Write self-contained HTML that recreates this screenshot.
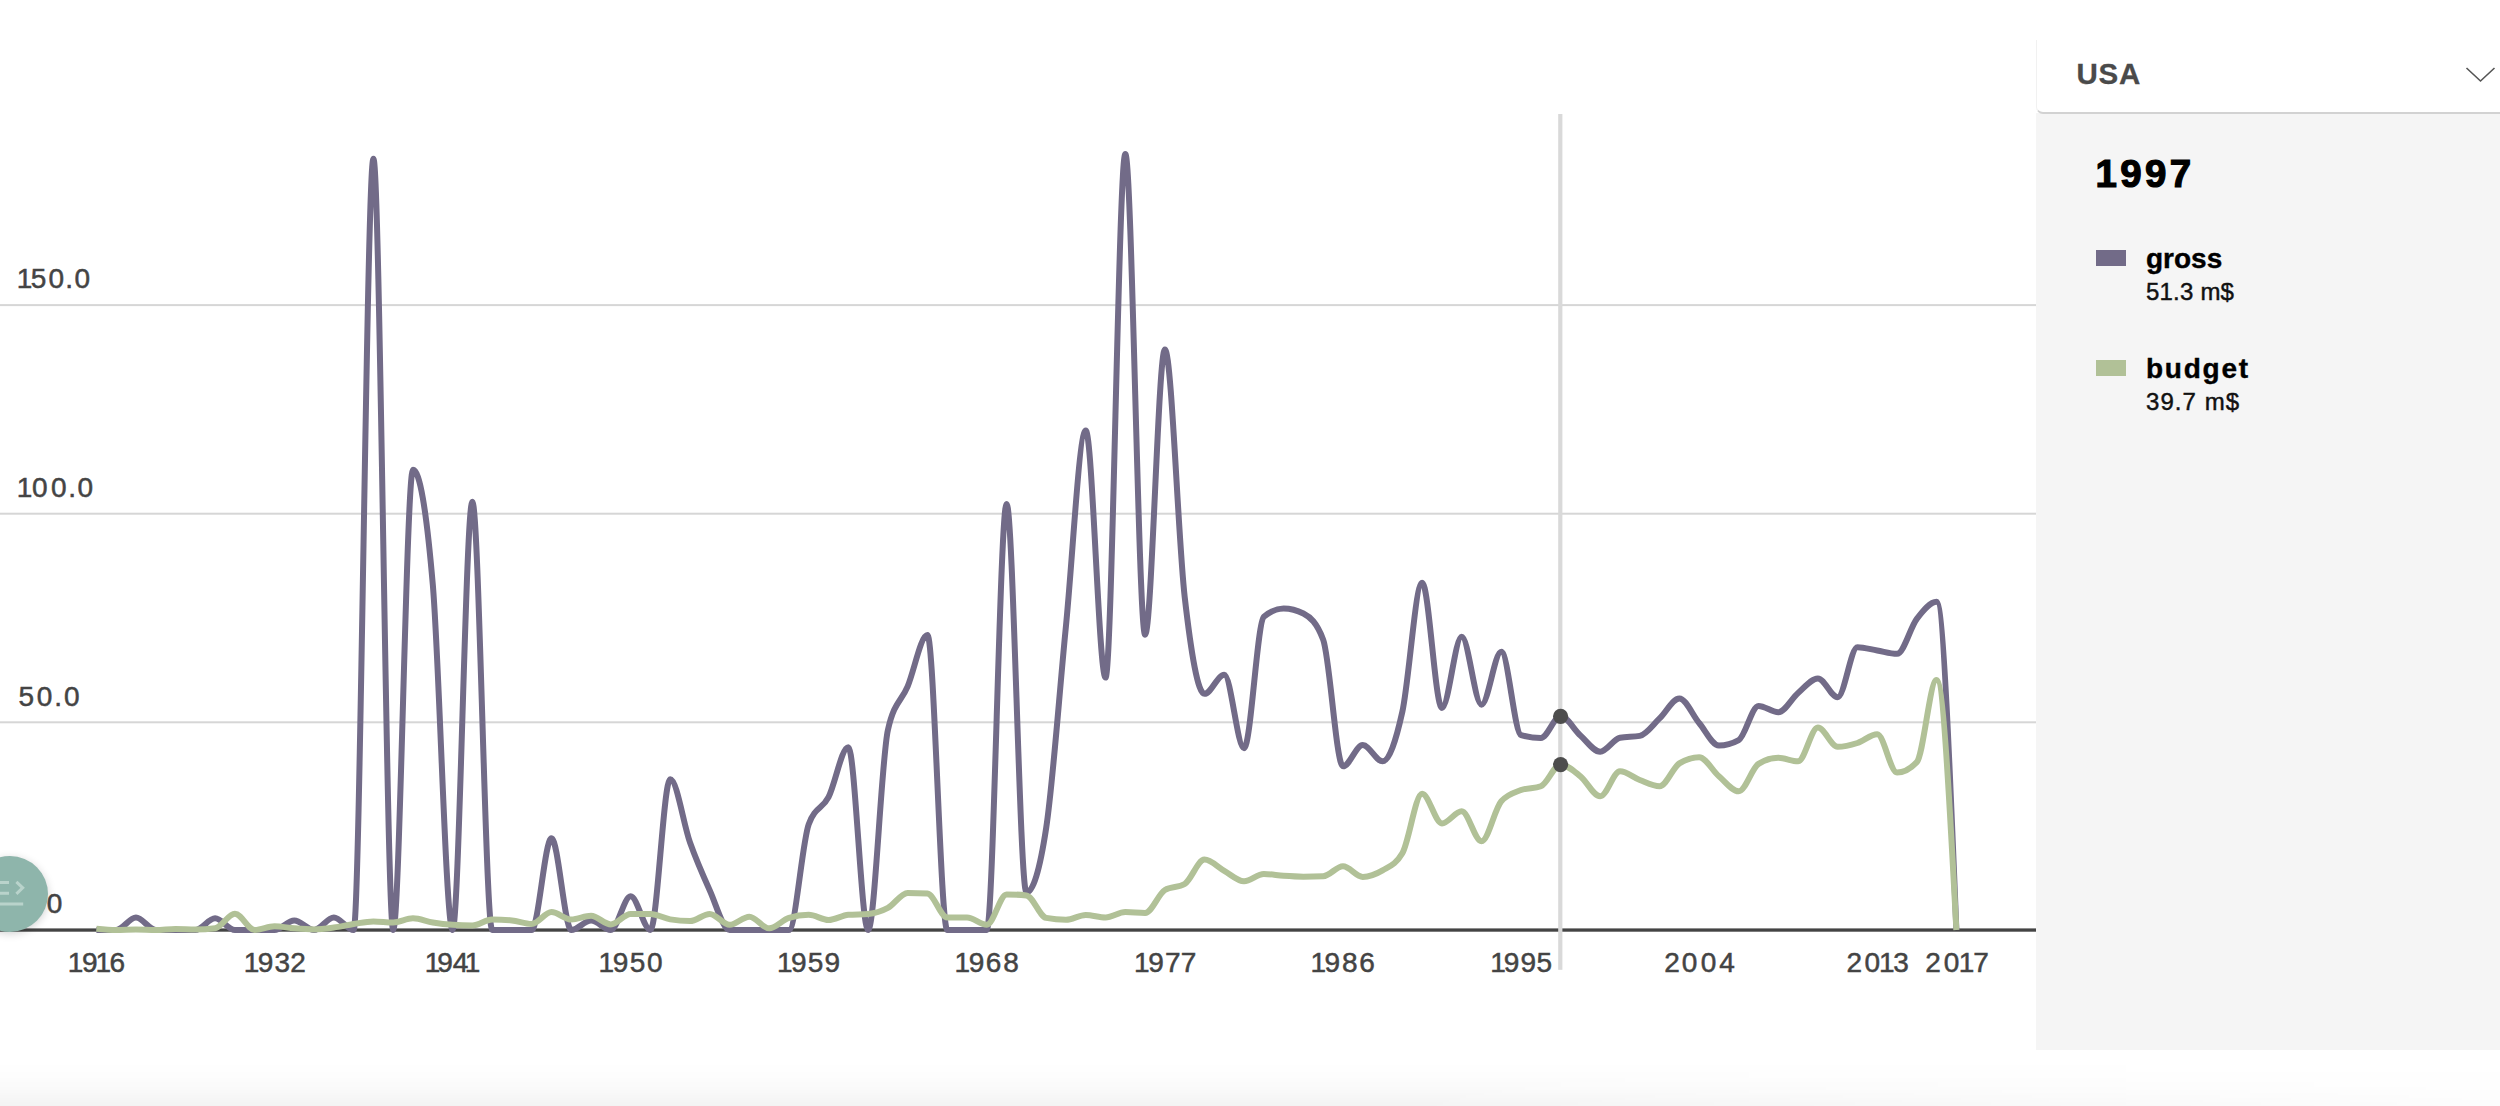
<!DOCTYPE html>
<html><head><meta charset="utf-8"><title>Gross and budget</title>
<style>
html,body{margin:0;padding:0;background:#fff;}
body{width:2500px;height:1106px;position:relative;overflow:hidden;font-family:"Liberation Sans",sans-serif;}
#chart{position:absolute;left:0;top:0;}
#chart text{font-family:"Liberation Sans",sans-serif;font-size:28px;fill:#444;stroke:#444;stroke-width:.5px}
#panel{position:absolute;left:2036px;top:113px;width:464px;height:937px;background:#f5f5f5;}
#select{position:absolute;left:2036px;top:40px;width:464px;height:72px;background:#fff;border-bottom:2px solid #d2d2d2;border-left:1px solid #f1f1f1;border-bottom-left-radius:7px;box-sizing:content-box}
#select span{position:absolute;left:39.5px;top:17.3px;font-weight:bold;font-size:29.5px;color:#4a4a4a;line-height:34px;letter-spacing:.7px;-webkit-text-stroke:.3px #4a4a4a}
#year{position:absolute;left:2095.5px;top:152.3px;font-weight:bold;font-size:38.5px;line-height:44px;color:#000;letter-spacing:3.3px;-webkit-text-stroke:1.2px #000}
.sw{position:absolute;left:2096px;width:30px;height:16px}
.nm{position:absolute;left:2146px;font-weight:bold;font-size:28px;line-height:32px;color:#000;-webkit-text-stroke:.4px #000}
.vl{position:absolute;left:2146px;font-size:24px;line-height:28px;color:#111;-webkit-text-stroke:.45px #111}
#fab{position:absolute;left:-28px;top:856px;width:76px;height:76px;border-radius:50%;background:#8eb5ab;box-shadow:0 2px 8px rgba(0,0,0,.18)}
#bottom{position:absolute;left:0;top:1062px;width:2500px;height:44px;background:linear-gradient(to bottom,rgba(0,0,0,0) 0%,rgba(0,0,0,.006) 30%,rgba(0,0,0,.02) 62%,rgba(0,0,0,.048) 100%);-webkit-mask-image:linear-gradient(to right,#000 0%,#000 55%,rgba(0,0,0,.25) 100%)}
</style></head><body>
<svg id="chart" width="2500" height="1106" viewBox="0 0 2500 1106">
<rect x="0" y="304.1" width="2036" height="2" fill="#d6d6d6"/><rect x="0" y="512.7" width="2036" height="2" fill="#d6d6d6"/><rect x="0" y="721.3" width="2036" height="2" fill="#d6d6d6"/>
<g><text x="16.77 30.76 48.42 65.31 74.42" y="288.0">150.0</text><text x="16.77 32.05 51.11 68.21 77.52" y="496.9">100.0</text><text x="18.38 36.84 54.33 64.02" y="706.0">50.0</text><text x="18.71 36.61 46.72" y="913.2">0.0</text></g>
<rect x="0" y="928.4" width="2036" height="3.3" fill="#444"/>
<rect x="1558.2" y="114" width="4.2" height="855.8" fill="#d9d9d9"/>
<path d="M96.40,930.00C103.00,930.00,109.59,930.00,116.19,930.00C122.78,930.00,129.38,917.50,135.97,917.50C142.57,917.50,149.17,930.00,155.76,930.00C162.36,930.00,168.95,930.00,175.55,930.00C182.14,930.00,188.74,930.00,195.34,930.00C201.93,930.00,208.53,918.34,215.12,918.34C221.72,918.34,228.31,930.00,234.91,930.00C241.50,930.00,248.10,930.00,254.70,930.00C261.29,930.00,267.89,930.00,274.48,930.00C281.08,930.00,287.67,920.42,294.27,920.42C300.87,920.42,307.46,930.00,314.06,930.00C320.65,930.00,327.25,917.50,333.84,917.50C340.44,917.50,347.04,930.00,353.63,930.00C360.23,930.00,366.82,158.64,373.42,158.64C380.01,158.64,386.61,930.00,393.21,930.00C399.80,930.00,406.40,469.77,412.99,469.77C419.59,469.77,426.18,507.95,432.78,584.31C439.37,660.66,445.97,930.00,452.57,930.00C459.16,930.00,465.76,501.84,472.35,501.84C478.95,501.84,485.54,930.00,492.14,930.00C498.74,930.00,505.33,930.00,511.93,930.00C518.52,930.00,525.12,930.00,531.71,930.00C538.31,930.00,544.91,838.37,551.50,838.37C558.10,838.37,564.69,930.00,571.29,930.00C577.88,930.00,584.48,920.42,591.07,920.42C597.67,920.42,604.27,930.00,610.86,930.00C617.46,930.00,624.05,896.26,630.65,896.26C637.24,896.26,643.84,930.00,650.44,930.00C657.03,930.00,663.63,779.23,670.22,779.23C676.82,779.23,683.41,824.00,690.01,842.53C696.61,861.07,703.20,875.86,709.80,890.43C716.39,905.01,722.99,930.00,729.58,930.00C736.18,930.00,742.78,930.00,749.37,930.00C755.97,930.00,762.56,930.00,769.16,930.00C775.75,930.00,782.35,930.00,788.94,930.00C795.54,930.00,802.14,842.26,808.73,824.21C815.33,806.16,821.92,809.98,828.52,797.14C835.11,784.29,841.71,747.16,848.31,747.16C854.90,747.16,861.50,930.00,868.09,930.00C874.69,930.00,881.28,759.24,887.88,730.08C894.48,700.92,901.07,702.17,907.67,686.35C914.26,670.52,920.86,635.12,927.45,635.12C934.05,635.12,940.65,930.00,947.24,930.00C953.84,930.00,960.43,930.00,967.03,930.00C973.62,930.00,980.22,930.00,986.81,930.00C993.41,930.00,1000.01,503.92,1006.60,503.92C1013.20,503.92,1019.79,892.51,1026.39,892.51C1032.98,892.51,1039.58,871.00,1046.18,827.96C1052.77,784.92,1059.37,692.18,1065.96,625.95C1072.56,559.73,1079.15,430.62,1085.75,430.62C1092.35,430.62,1098.94,677.60,1105.54,677.60C1112.13,677.60,1118.73,154.06,1125.32,154.06C1131.92,154.06,1138.52,634.70,1145.11,634.70C1151.71,634.70,1158.30,349.40,1164.90,349.40C1171.49,349.40,1178.09,539.39,1184.68,596.80C1191.28,654.21,1197.88,693.84,1204.47,693.84C1211.07,693.84,1217.66,674.69,1224.26,674.69C1230.85,674.69,1237.45,748.20,1244.05,748.20C1250.64,748.20,1257.24,622.35,1263.83,616.79C1270.43,611.24,1277.02,608.46,1283.62,608.46C1290.22,608.46,1296.81,610.13,1303.41,613.46C1310.00,616.79,1316.60,622.21,1323.19,639.70C1329.79,657.19,1336.39,766.32,1342.98,766.32C1349.58,766.32,1356.17,745.07,1362.77,745.07C1369.36,745.07,1375.96,761.32,1382.56,761.32C1389.15,761.32,1395.75,741.53,1402.34,711.75C1408.94,681.97,1415.53,582.64,1422.13,582.64C1428.72,582.64,1435.32,708.01,1441.92,708.01C1448.51,708.01,1455.11,636.78,1461.70,636.78C1468.30,636.78,1474.89,704.67,1481.49,704.67C1488.09,704.67,1494.68,651.78,1501.28,651.78C1507.87,651.78,1514.47,733.13,1521.06,735.08C1527.66,737.02,1534.26,737.99,1540.85,737.99C1547.45,737.99,1554.04,716.34,1560.64,716.34C1567.23,716.34,1573.83,729.59,1580.42,735.49C1587.02,741.39,1593.62,751.74,1600.21,751.74C1606.81,751.74,1613.40,739.03,1620.00,737.79C1626.59,736.54,1633.19,737.16,1639.79,735.91C1646.38,734.66,1652.98,724.67,1659.57,718.42C1666.17,712.17,1672.76,698.43,1679.36,698.43C1685.96,698.43,1692.55,715.16,1699.15,723.00C1705.74,730.84,1712.34,745.49,1718.93,745.49C1725.53,745.49,1732.13,743.69,1738.72,740.08C1745.32,736.47,1751.91,705.92,1758.51,705.92C1765.10,705.92,1771.70,712.17,1778.30,712.17C1784.89,712.17,1791.49,698.63,1798.08,693.01C1804.68,687.39,1811.27,678.43,1817.87,678.43C1824.46,678.43,1831.06,697.18,1837.66,697.18C1844.25,697.18,1850.85,647.20,1857.44,647.20C1864.04,647.20,1870.63,649.42,1877.23,650.53C1883.83,651.64,1890.42,653.86,1897.02,653.86C1903.61,653.86,1910.21,627.55,1916.80,618.87C1923.40,610.20,1930.00,601.80,1936.59,601.80C1943.19,601.80,1949.78,765.90,1956.38,930.00" fill="none" stroke="#726b88" stroke-width="6" stroke-linejoin="round"/>
<path d="M96.40,928.75C103.00,929.38,109.59,930.00,116.19,930.00C122.78,930.00,129.38,929.58,135.97,929.58C142.57,929.58,149.17,930.00,155.76,930.00C162.36,930.00,168.95,928.96,175.55,928.96C182.14,928.96,188.74,929.58,195.34,929.58C201.93,929.58,208.53,929.17,215.12,928.33C221.72,927.50,228.31,913.76,234.91,913.76C241.50,913.76,248.10,930.00,254.70,930.00C261.29,930.00,267.89,926.25,274.48,926.25C281.08,926.25,287.67,927.81,294.27,928.33C300.87,928.85,307.46,929.38,314.06,929.38C320.65,929.38,327.25,928.40,333.84,927.50C340.44,926.60,347.04,924.98,353.63,923.96C360.23,922.94,366.82,921.38,373.42,921.38C380.01,921.38,386.61,922.50,393.21,922.50C399.80,922.50,406.40,918.34,412.99,918.34C419.59,918.34,426.18,921.43,432.78,922.50C439.37,923.58,445.97,924.38,452.57,924.79C459.16,925.21,465.76,925.42,472.35,925.42C478.95,925.42,485.54,919.38,492.14,919.38C498.74,919.38,505.33,919.73,511.93,920.42C518.52,921.11,525.12,923.96,531.71,923.96C538.31,923.96,544.91,912.09,551.50,912.09C558.10,912.09,564.69,919.59,571.29,919.59C577.88,919.59,584.48,915.84,591.07,915.84C597.67,915.84,604.27,924.38,610.86,924.38C617.46,924.38,624.05,913.96,630.65,913.96C637.24,913.96,643.84,913.96,650.44,913.96C657.03,913.96,663.63,918.27,670.22,919.38C676.82,920.49,683.41,921.05,690.01,921.05C696.61,921.05,703.20,913.96,709.80,913.96C716.39,913.96,722.99,924.79,729.58,924.79C736.18,924.79,742.78,916.67,749.37,916.67C755.97,916.67,762.56,928.33,769.16,928.33C775.75,928.33,782.35,920.00,788.94,917.92C795.54,915.84,802.14,914.80,808.73,914.80C815.33,914.80,821.92,920.00,828.52,920.00C835.11,920.00,841.71,915.35,848.31,914.80C854.90,914.24,861.50,914.52,868.09,913.96C874.69,913.41,881.28,911.43,887.88,907.93C894.48,904.42,901.07,892.93,907.67,892.93C914.26,892.93,920.86,893.14,927.45,893.56C934.05,893.97,940.65,917.50,947.24,917.50C953.84,917.50,960.43,917.50,967.03,917.50C973.62,917.50,980.22,924.79,986.81,924.79C993.41,924.79,1000.01,894.39,1006.60,894.39C1013.20,894.39,1019.79,894.74,1026.39,895.43C1032.98,896.12,1039.58,916.67,1046.18,917.92C1052.77,919.17,1059.37,919.80,1065.96,919.80C1072.56,919.80,1079.15,915.01,1085.75,915.01C1092.35,915.01,1098.94,917.50,1105.54,917.50C1112.13,917.50,1118.73,912.09,1125.32,912.09C1131.92,912.09,1138.52,912.92,1145.11,912.92C1151.71,912.92,1158.30,894.04,1164.90,890.02C1171.49,885.99,1178.09,888.00,1184.68,883.98C1191.28,879.95,1197.88,859.61,1204.47,859.61C1211.07,859.61,1217.66,867.25,1224.26,870.86C1230.85,874.47,1237.45,881.27,1244.05,881.27C1250.64,881.27,1257.24,873.98,1263.83,873.98C1270.43,873.98,1277.02,875.40,1283.62,875.86C1290.22,876.31,1296.81,876.69,1303.41,876.69C1310.00,876.69,1316.60,876.55,1323.19,876.27C1329.79,875.99,1336.39,866.28,1342.98,866.28C1349.58,866.28,1356.17,876.90,1362.77,876.90C1369.36,876.90,1375.96,874.36,1382.56,870.44C1389.15,866.52,1395.75,864.75,1402.34,853.36C1408.94,841.98,1415.53,793.80,1422.13,793.80C1428.72,793.80,1435.32,823.38,1441.92,823.38C1448.51,823.38,1455.11,811.30,1461.70,811.30C1468.30,811.30,1474.89,841.29,1481.49,841.29C1488.09,841.29,1494.68,808.80,1501.28,801.30C1507.87,793.80,1514.47,792.56,1521.06,790.06C1527.66,787.56,1534.26,788.81,1540.85,786.31C1547.45,783.81,1554.04,764.65,1560.64,764.65C1567.23,764.65,1573.83,771.04,1580.42,776.31C1587.02,781.59,1593.62,796.30,1600.21,796.30C1606.81,796.30,1613.40,771.31,1620.00,771.31C1626.59,771.31,1633.19,777.56,1639.79,780.06C1646.38,782.56,1652.98,786.31,1659.57,786.31C1666.17,786.31,1672.76,767.56,1679.36,763.40C1685.96,759.24,1692.55,757.15,1699.15,757.15C1705.74,757.15,1712.34,770.62,1718.93,776.31C1725.53,782.00,1732.13,791.31,1738.72,791.31C1745.32,791.31,1751.91,767.84,1758.51,763.82C1765.10,759.79,1771.70,757.78,1778.30,757.78C1784.89,757.78,1791.49,761.32,1798.08,761.32C1804.68,761.32,1811.27,727.58,1817.87,727.58C1824.46,727.58,1831.06,746.74,1837.66,746.74C1844.25,746.74,1850.85,745.07,1857.44,742.99C1864.04,740.91,1870.63,734.25,1877.23,734.25C1883.83,734.25,1890.42,772.56,1897.02,772.56C1903.61,772.56,1910.21,769.09,1916.80,762.15C1923.40,755.21,1930.00,680.10,1936.59,680.10C1943.19,680.10,1949.78,805.05,1956.38,930.00" fill="none" stroke="#b1c197" stroke-width="6" stroke-linejoin="round"/>
<circle cx="1560.6" cy="716.3" r="7.6" fill="#4d4d4d"/>
<circle cx="1560.6" cy="764.6" r="7.6" fill="#4d4d4d"/>
<g><text x="67.77 81.99 95.44 109.56" y="971.5">1916</text><text x="243.67 257.75 274.39 290.34" y="971.5">1932</text><text x="424.77 437.26 452.80 464.79" y="971.5">1941</text><text x="598.47 612.76 629.66 647.12" y="971.5">1950</text><text x="776.97 791.12 807.86 824.55" y="971.5">1959</text><text x="954.57 968.74 985.83 1003.34" y="971.5">1968</text><text x="1134.07 1148.29 1164.88 1180.84" y="971.5">1977</text><text x="1310.47 1324.60 1341.98 1359.26" y="971.5">1986</text><text x="1490.17 1503.85 1520.44 1536.60" y="971.5">1995</text><text x="1664.19 1681.83 1700.64 1719.35" y="971.5">2004</text><text x="1846.59 1864.50 1879.04 1893.26" y="971.5">2013</text><text x="1925.29 1943.74 1958.73 1973.14" y="971.5">2017</text></g>
</svg>
<div id="panel"></div>
<div id="select"><span>USA</span>
<svg style="position:absolute;left:425px;top:23.5px" width="36" height="24" viewBox="0 0 36 24"><path d="M4.5,4 L18.5,17 L32.5,4" fill="none" stroke="#555" stroke-width="1.6"/></svg>
</div>
<div id="year">1997</div>
<div class="sw" style="top:250px;background:#726b88"></div>
<div class="nm" style="top:243px">gross</div>
<div class="vl" style="top:278.4px;letter-spacing:.2px">51.3 m$</div>
<div class="sw" style="top:360px;background:#b1c197"></div>
<div class="nm" style="top:353px;letter-spacing:1.75px">budget</div>
<div class="vl" style="top:388.2px;letter-spacing:1.05px">39.7 m$</div>
<div id="fab"><svg width="76" height="76" viewBox="0 0 76 76"><g fill="none" stroke="#b9d3cb" stroke-width="3"><path d="M20,26.4H37M20,37.3H37M20,48H51.2"/><path d="M44.4,25.8L50.7,31.8L44.4,37.9" stroke-linejoin="miter"/></g></svg></div>
<div id="bottom"></div>
</body></html>
